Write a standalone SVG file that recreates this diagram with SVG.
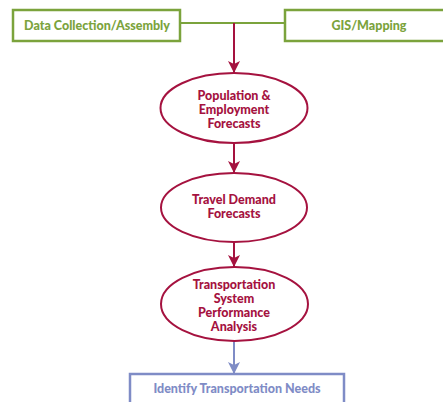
<svg xmlns="http://www.w3.org/2000/svg" width="443" height="402" viewBox="0 0 443 402">
<style>
text{font-family:Lato,"Open Sans","Liberation Sans",sans-serif;font-weight:900;font-size:12.5px;text-anchor:middle}
.g{fill:none;stroke:#7ba33c;stroke-width:2.5}
.gt{fill:#7ba33c}
.r{fill:#fff;stroke:#a5123f;stroke-width:2}
.rt{fill:#a5123f}
.b{fill:none;stroke:#7f8cc6;stroke-width:2.5}
.bt{fill:#7f8cc6}
.rl{stroke:#a5123f;stroke-width:2;fill:none}
.bl{stroke:#7f8cc6;stroke-width:2;fill:none}
</style>
<defs>
<marker id="ar" viewBox="0 0 12 12" refX="12" refY="6" markerWidth="12" markerHeight="12" markerUnits="userSpaceOnUse" orient="auto"><path d="M0,0 L12,6 L0,12 L3,6 Z" fill="#a5123f"/></marker>
<marker id="ab" viewBox="0 0 12 12" refX="12" refY="6" markerWidth="12" markerHeight="12" markerUnits="userSpaceOnUse" orient="auto"><path d="M0,0 L12,6 L0,12 L3,6 Z" fill="#7f8cc6"/></marker>
</defs>
<g id="connectors">
<line class="g" x1="180" y1="23" x2="285" y2="23" style="stroke-width:2"/>
<line class="rl" x1="234" y1="23" x2="234" y2="73" marker-end="url(#ar)"/>
<line class="rl" x1="234" y1="143" x2="234" y2="173" marker-end="url(#ar)"/>
<line class="rl" x1="234" y1="242" x2="234" y2="267" marker-end="url(#ar)"/>
<line class="bl" x1="234" y1="341" x2="234" y2="374" marker-end="url(#ab)"/>
</g>
<g id="data">
<rect class="g" x="13" y="10" width="167" height="31"/>
<text class="gt" x="97" y="30">Data Collection/Assembly</text>
</g>
<g id="gis">
<rect class="g" x="285" y="10" width="170" height="31"/>
<text class="gt" x="369" y="30">GIS/Mapping</text>
</g>
<g id="population">
<ellipse class="r" cx="234" cy="108" rx="73.5" ry="35"/>
<text class="rt" x="234" y="100">Population &amp;</text>
<text class="rt" x="234" y="114">Employment</text>
<text class="rt" x="234" y="128">Forecasts</text>
</g>
<g id="travel">
<ellipse class="r" cx="234" cy="207.5" rx="73" ry="34.5"/>
<text class="rt" x="234" y="204">Travel Demand</text>
<text class="rt" x="234" y="218">Forecasts</text>
</g>
<g id="performance">
<ellipse class="r" cx="234.5" cy="304" rx="73.5" ry="37"/>
<text class="rt" x="234" y="289">Transportation</text>
<text class="rt" x="234" y="303">System</text>
<text class="rt" x="234" y="317">Performance</text>
<text class="rt" x="234" y="331">Analysis</text>
</g>
<g id="needs">
<rect class="b" x="130" y="374" width="214" height="40"/>
<text class="bt" x="237" y="393">Identify Transportation Needs</text>
</g>
</svg>
